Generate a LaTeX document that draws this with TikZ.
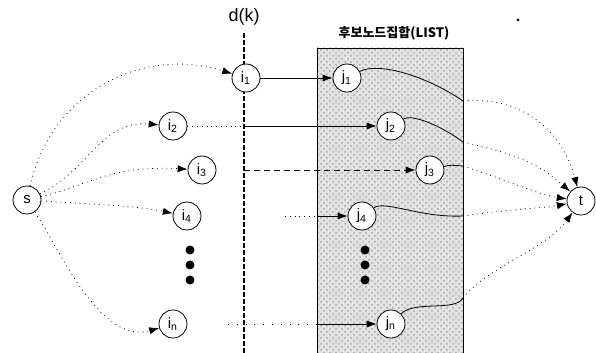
\documentclass[tikz,border=0pt]{standalone}
\usepackage{fontspec}
\setmainfont{Liberation Sans}
\newfontfamily\krfont{Noto Sans CJK KR}
\usetikzlibrary{arrows.meta,patterns}

\begin{document}
\begin{tikzpicture}[x=0.5pt, y=-0.5pt, >={Latex[length=5pt,width=3.6pt]},
      vertex/.style={circle, draw, fill=white, minimum size=14pt, inner sep=0pt, font=\fontsize{7.5}{8}\selectfont},
      bigdot/.style={circle, fill, inner sep=0pt, minimum size=4.5pt}]

      \useasboundingbox (0,0) rectangle (596,353);

      \fill[gray!22] (317,48) rectangle (463,353);
      \fill[pattern=crosshatch dots, pattern color=gray!70] (317,48) rectangle (463,353);
      \draw (317,353) -- (317,48) -- (463,48) -- (463,353);

      \node[font=\krfont\bfseries\fontsize{6.5}{7}\selectfont] (list) at (394,33) {후보노드집합(LIST)};
      \node[font=\fontsize{9}{10}\selectfont] (dk) at (244,17) {d(k)};
      \coordinate (dtop) at (244,33);
      \coordinate (dbot) at (244,353);
      \draw[line width=1.2pt, dash pattern=on 2.5pt off 1pt] (dtop) -- (dbot);
      \node[circle, fill, inner sep=0pt, minimum size=1.5pt] (speck) at (518,20) {};

      \node[vertex] (s) at (27,200) {s};
      \node[vertex] (t) at (581,201) {t};

      \node[vertex] (i1) at (246,78) {i\textsubscript{1}};
      \node[vertex] (i2) at (173,126) {i\textsubscript{2}};
      \node[vertex] (i3) at (202,170) {i\textsubscript{3}};
      \node[vertex] (i4) at (187,216) {i\textsubscript{4}};
      \node[vertex] (in) at (173,324) {i\textsubscript{n}};

      \node[vertex] (j1) at (347,78) {j\textsubscript{1}};
      \node[vertex] (j2) at (391,126) {j\textsubscript{2}};
      \node[vertex] (j3) at (430,170) {j\textsubscript{3}};
      \node[vertex] (j4) at (362,216) {j\textsubscript{4}};
      \node[vertex] (jn) at (391,324) {j\textsubscript{n}};

      \foreach \y in {250,265,280} {
            \node[bigdot] (idot\y) at (190,\y) {};
            \node[bigdot] (jdot\y) at (365,\y) {};
      }

      \coordinate (c2) at (244,126);
      \coordinate (c3) at (244,170);
      \coordinate (c4) at (285,216);
      \coordinate (b4) at (317,216);
      \coordinate (cn) at (228,324);
      \coordinate (bn) at (317,324);

      \coordinate (e1) at (463,101);
      \coordinate (e2) at (463,142);
      \coordinate (e3) at (463,166);
      \coordinate (e4) at (463,216);
      \coordinate (en) at (463,298);

      \draw[->, dotted] (s) .. controls (50,95) and (140,45) .. (i1);
      \draw[->, dotted] (s) .. controls (90,170) and (100,120) .. (i2);
      \draw[->, dotted] (s) .. controls (90,185) and (110,165) .. (i3);
      \draw[->, dotted] (s) .. controls (100,205) and (130,205) .. (i4);
      \draw[->, dotted] (s) .. controls (60,250) and (100,345) .. (in);

      \draw[->] (i1) -- (j1);
      \draw[dotted] (i2) -- (c2);
      \draw[->] (c2) -- (j2);
      \draw[->, densely dashed] (c3) -- (j3);
      \draw[dotted] (c4) -- (b4);
      \draw[->] (b4) -- (j4);
      \draw[loosely dotted] (cn) -- (bn);
      \draw[->] (bn) -- (jn);

      \draw (j1) .. controls (378,62) and (425,75) .. (e1);
      \draw (j2) .. controls (412,114) and (440,125) .. (e2);
      \draw (j3) .. controls (450,165) .. (e3);
      \draw (j4) .. controls (385,200) and (420,218) .. (e4);
      \draw (jn) .. controls (415,300) and (455,312) .. (en);

      \draw[->, dotted] (e1) .. controls (530,95) and (565,140) .. (t);
      \draw[->, dotted] (e2) .. controls (520,155) and (540,165) .. (t);
      \draw[->, dotted] (e3) .. controls (520,185) and (540,195) .. (t);
      \draw[->, dotted] (e4) .. controls (520,208) and (545,208) .. (t);
      \draw[->, dotted] (en) .. controls (490,265) and (545,250) .. (t);

\end{tikzpicture}
\end{document}
